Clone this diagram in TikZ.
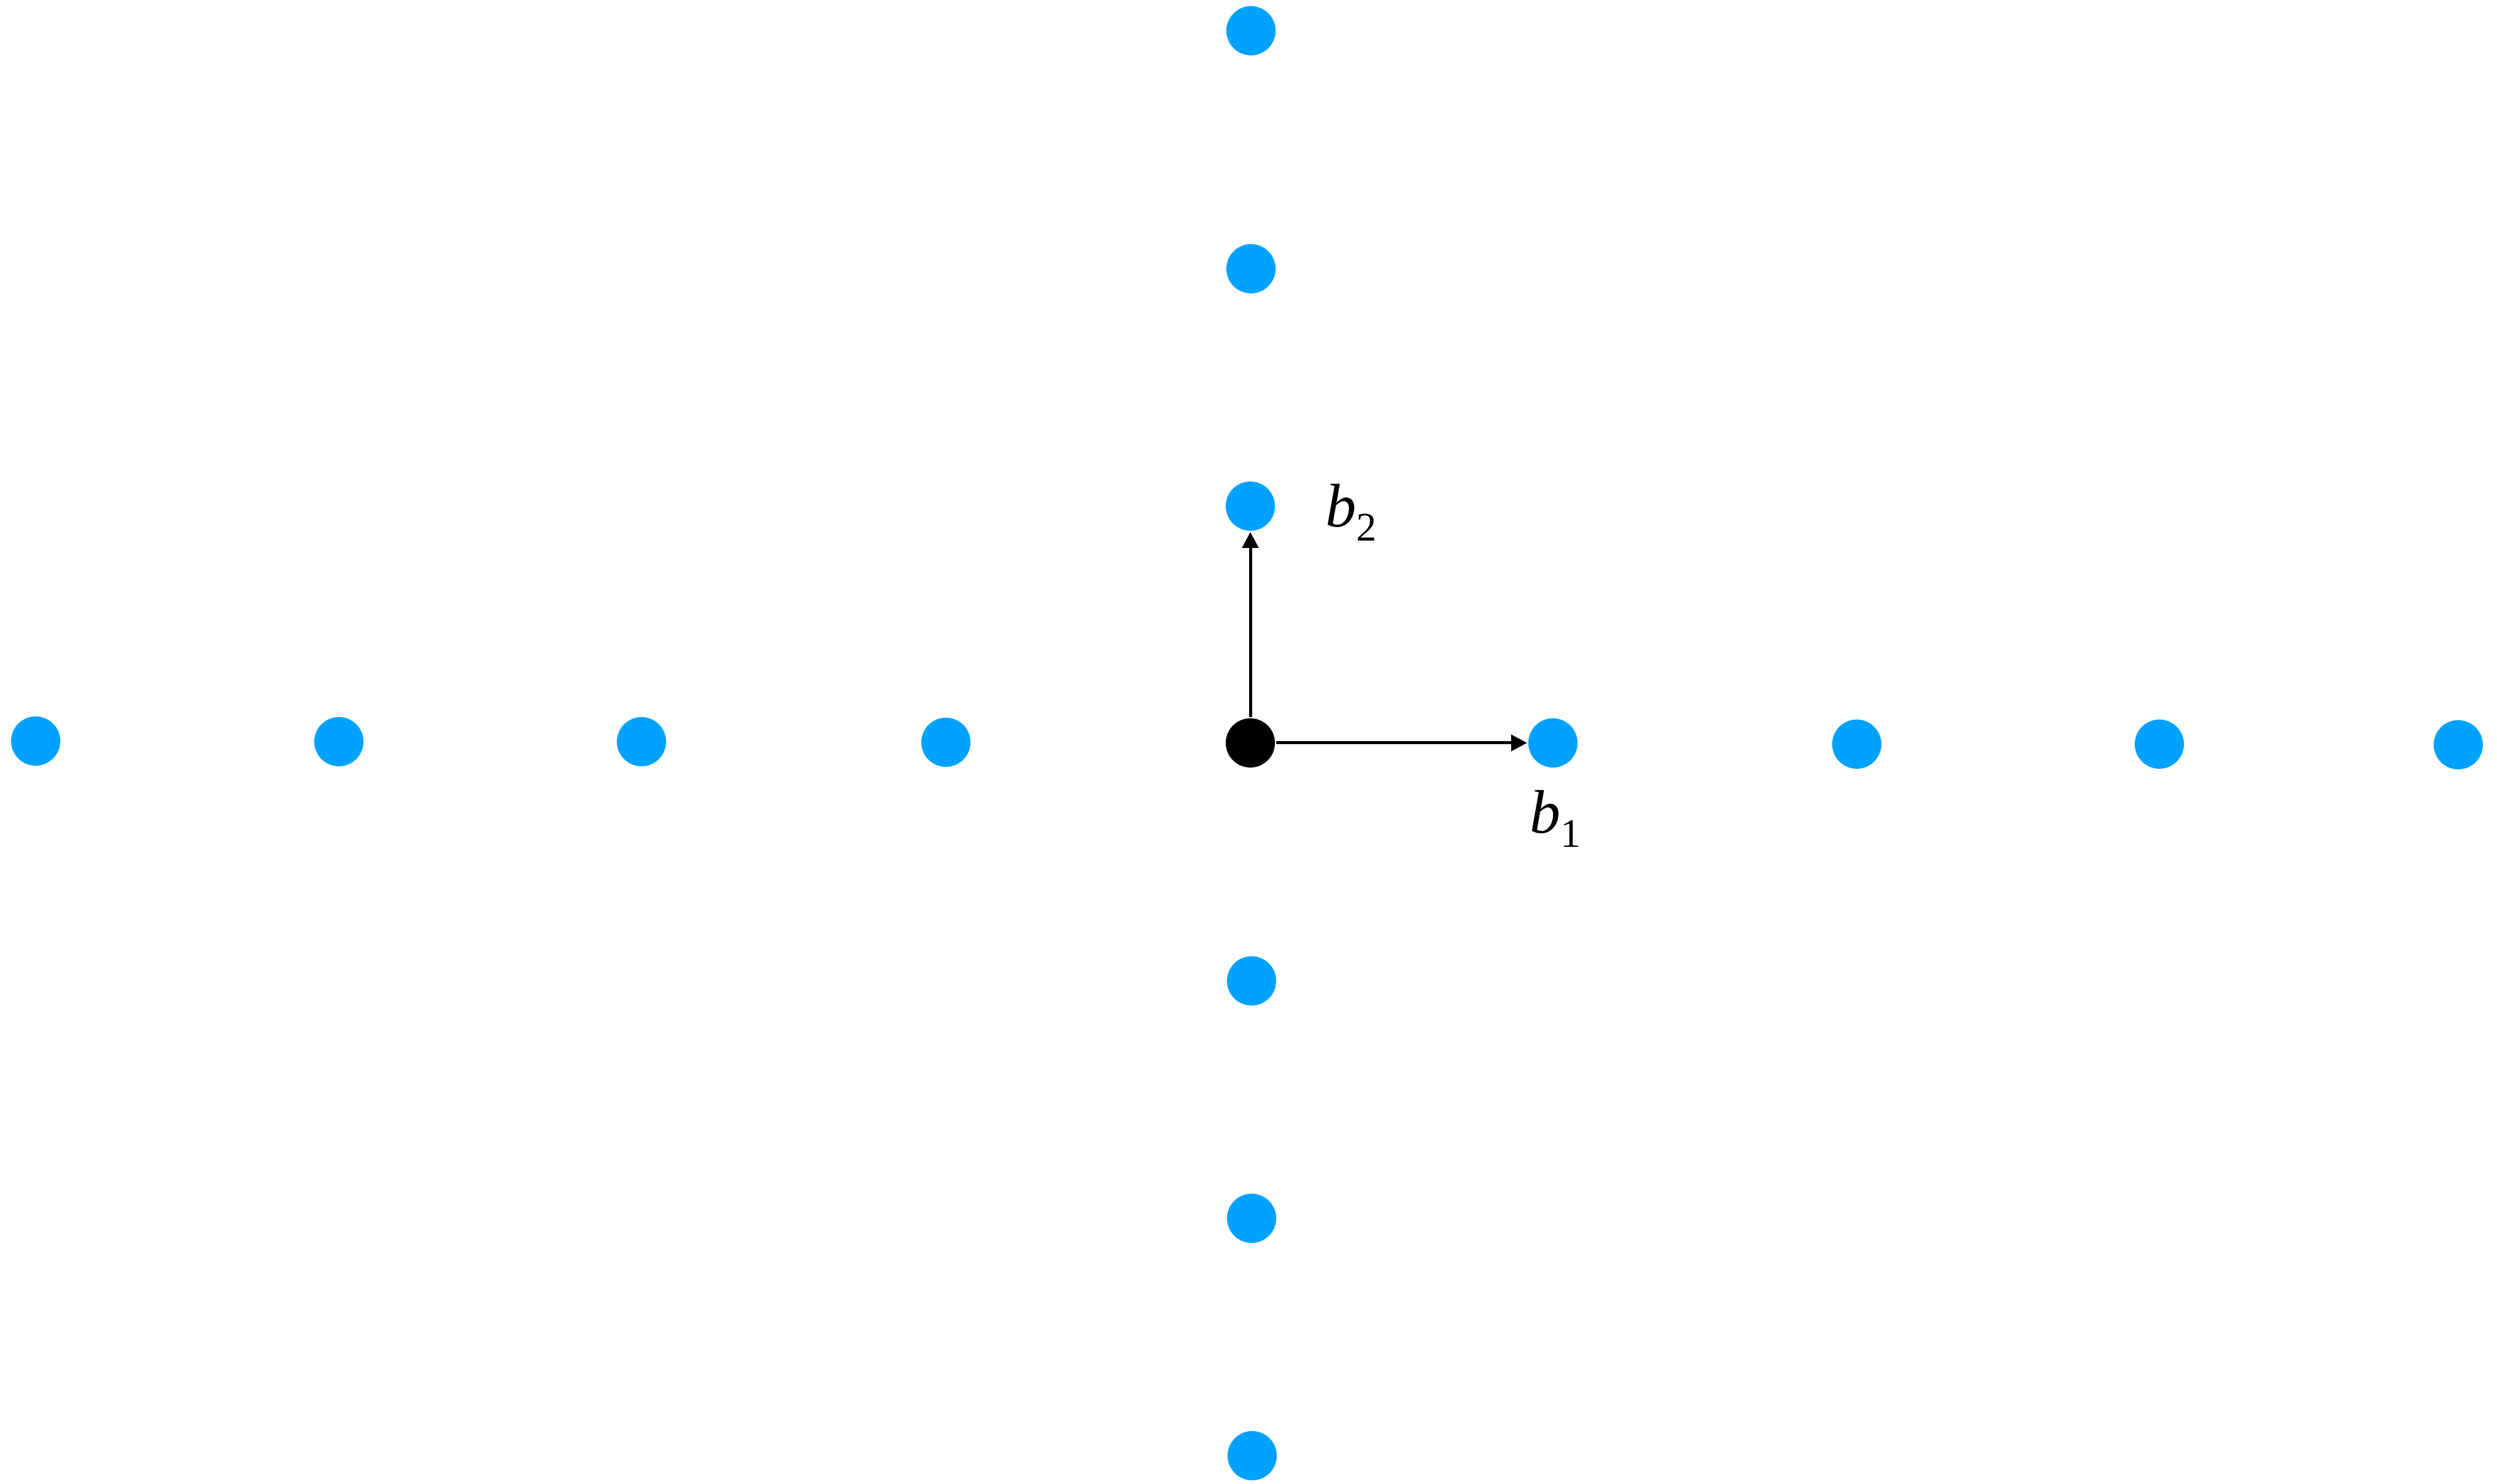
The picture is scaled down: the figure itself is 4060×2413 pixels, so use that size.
\documentclass[tikz,border=0pt]{standalone}
\usepackage{fontspec}
\setmainfont{Liberation Serif}
\usetikzlibrary{arrows.meta}
\definecolor{dotblue}{RGB}{0,162,255}
\newcommand\veclab[2]{\fontsize{10}{12}\selectfont\textit{#1}\raisebox{-2.3pt}{\fontsize{6.6}{7}\selectfont #2}}
\begin{document}
\begin{tikzpicture}[x=0.1pt,y=-0.1pt,
  dot/.style={circle,fill=dotblue,inner sep=0pt,minimum size=8pt},
  origin/.style={circle,fill=black,inner sep=0pt,minimum size=8pt},
  vec/.style={line width=0.5pt,-{Triangle[length=2.6pt,width=2.6pt]}},
  lab/.style={inner sep=0pt,anchor=base west}]
\useasboundingbox (0,0) rectangle (4060,2413);
% horizontal row
\node[dot] (h1) at (58,1205) {};
\node[dot] (h2) at (551,1206) {};
\node[dot] (h3) at (1043,1206) {};
\node[dot] (h4) at (1538,1207) {};
\node[origin] (o) at (2033,1208) {};
\node[dot] (b1) at (2525,1208) {};
\node[dot] (h6) at (3019,1210) {};
\node[dot] (h7) at (3511,1210) {};
\node[dot] (h8) at (3997,1211) {};
% vertical column
\node[dot] (v1) at (2034,50) {};
\node[dot] (v2) at (2034,437) {};
\node[dot] (b2) at (2033,823) {};
\node[dot] (v5) at (2035,1595) {};
\node[dot] (v6) at (2035,1981) {};
\node[dot] (v7) at (2036,2367) {};
% basis vectors
\draw[vec] (o) -- (b1);
\draw[vec] (o) -- (b2);
\node[lab] (l1) at (2485,1355) {\veclab{b}{1}};
\node[lab] (l2) at (2153,857) {\veclab{b}{2}};
\end{tikzpicture}
\end{document}
